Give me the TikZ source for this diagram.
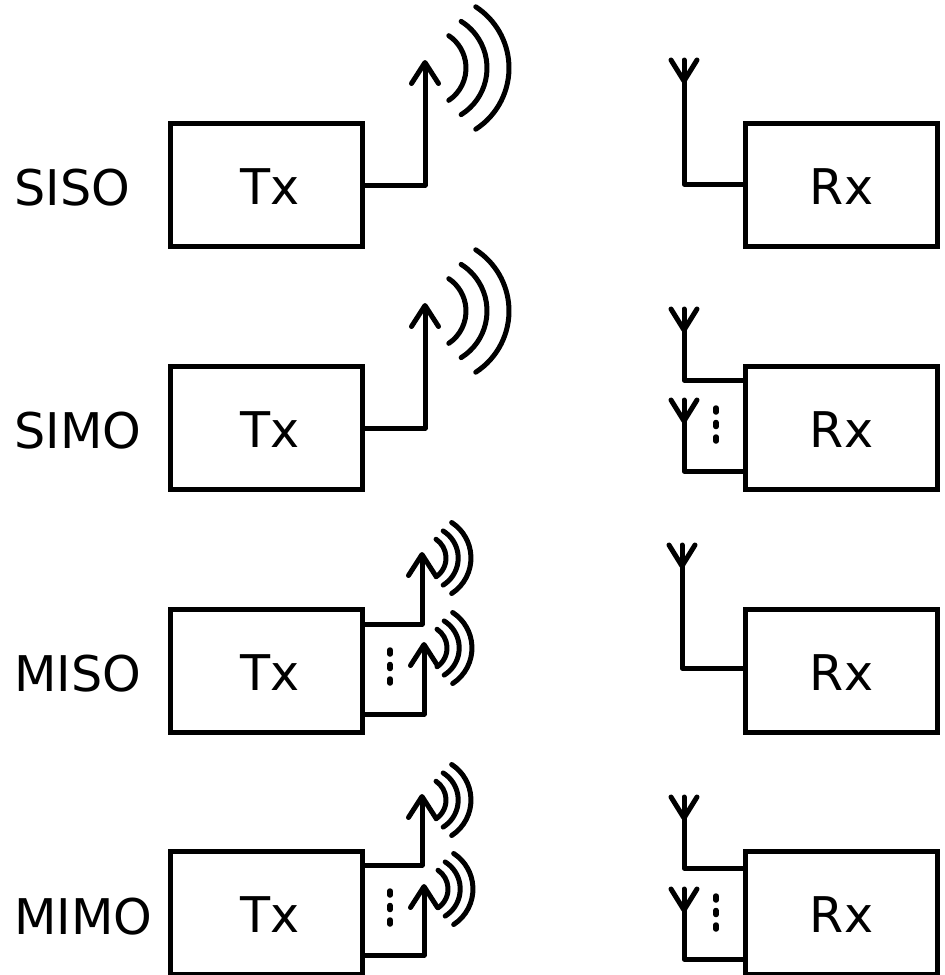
\documentclass[tikz,border=0pt]{standalone}
\usepackage{xcolor}
\usepackage{fontspec}
\setmainfont{DejaVu Sans}
\usetikzlibrary{arrows.meta,calc}

\begin{document}
\begin{tikzpicture}[x=.02cm,y=.02cm]
\tikzset{box/.style={draw, line width=.1cm, outer sep=0pt, inner sep=0pt, minimum width=3.86cm, minimum height=2.48cm, font=\fontsize{28}{30}\selectfont, text height=.79cm, text depth=0pt},
lab/.style={anchor=base west, inner sep=0pt, font=\fontsize{28}{30}\selectfont},
wire/.style={line width=.1cm, line join=round, line cap=round},
txwire/.style={wire, -{Straight Barb[length=.42cm, width=.54cm, line cap=round, line join=round]}},
dotsv/.style={line width=.11cm, line cap=round, dash pattern=on .08cm off .21cm},
waves/.pic={\draw[wire] (-56:39) arc[start angle=-56, end angle=56, radius=39];
\draw[wire] ($(5,0)+(-58:55)$) arc[start angle=-58, end angle=58, radius=55];
\draw[wire] ($(9,0)+(-57:73)$) arc[start angle=-57, end angle=57, radius=73];},
yant/.pic={\draw[wire] (-13,0) -- (0,-21) -- (13,0);}};
\useasboundingbox (0,0) rectangle (945,-975);
\node [lab] (l1) at (14,-205) {SISO};
\node [lab] (l2) at (14,-448) {SIMO};
\node [lab] (l3) at (14,-691) {MISO};
\node [lab] (l4) at (14,-934) {MIMO};
\node [box] (tx1) at (266.5,-185) {\hspace{.16cm}Tx};
\node [box] (tx2) at (266.5,-428) {\hspace{.16cm}Tx};
\node [box] (tx3) at (266.5,-671) {\hspace{.16cm}Tx};
\node [box] (tx4) at (266.5,-913) {\hspace{.16cm}Tx};
\node [box] (rx1) at (841.5,-185) {Rx};
\node [box] (rx2) at (841.5,-428) {Rx};
\node [box] (rx3) at (841.5,-671) {Rx};
\node [box] (rx4) at (841.5,-913) {Rx};
\coordinate (ta1) at (425,-60);
\coordinate (ta2) at (425,-303);
\coordinate (ta3) at (422,-552);
\coordinate (tb3) at (424,-642);
\coordinate (ta4) at (422,-794);
\coordinate (tb4) at (424,-884);
\coordinate (ra1) at (684,-60);
\coordinate (ra2) at (684,-309);
\coordinate (rb2) at (684,-400);
\coordinate (ra3) at (682,-545);
\coordinate (ra4) at (684,-797);
\coordinate (rb4) at (684,-889);
\draw [txwire] (tx1.east) -| (ta1);
\draw [txwire] (tx2.east) -| (ta2);
\draw [txwire] ([yshift=.94cm]tx3.east) -| (ta3);
\draw [txwire] ([yshift=-.86cm]tx3.east) -| (tb3);
\draw [txwire] ([yshift=.96cm]tx4.east) -| (ta4);
\draw [txwire] ([yshift=-.84cm]tx4.east) -| (tb4);
\draw [wire] ([yshift=.02cm]rx1.west) -| (ra1);
\draw [wire] ([yshift=.96cm]rx2.west) -| (ra2);
\draw [wire] ([yshift=-.86cm]rx2.west) -| (rb2);
\draw [wire] ([yshift=.06cm]rx3.west) -| (ra3);
\draw [wire] ([yshift=.9cm]rx4.west) -| (ra4);
\draw [wire] ([yshift=-.92cm]rx4.west) -| (rb4);
\pic at (ra1) {yant};
\pic at (ra2) {yant};
\pic at (rb2) {yant};
\pic at (ra3) {yant};
\pic at (ra4) {yant};
\pic at (rb4) {yant};
\pic at (427,-68) {waves};
\pic at (427,-311) {waves};
\pic [scale=.58] at (423.4,-558) {waves};
\pic [scale=.58] at (424.4,-648) {waves};
\pic [scale=.58] at (423.4,-800) {waves};
\pic [scale=.58] at (425.4,-889) {waves};
\draw [dotsv] (390,-650) -- (390,-686);
\draw [dotsv] (390,-891) -- (390,-927);
\draw [dotsv] (716,-408) -- (716,-444);
\draw [dotsv] (716,-896) -- (716,-932);
\end{tikzpicture}
\end{document}
